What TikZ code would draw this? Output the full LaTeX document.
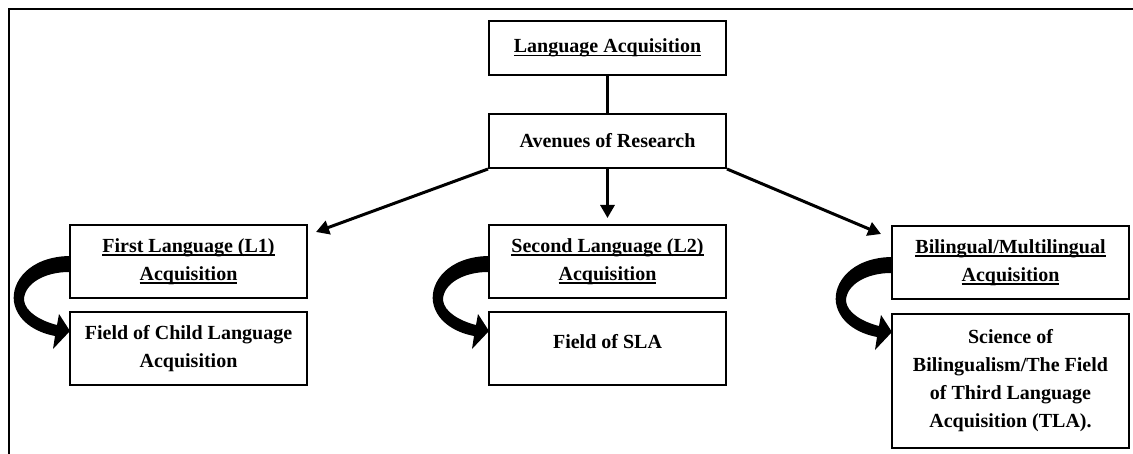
\documentclass[tikz,border=0pt]{standalone}
\usepackage{fontspec}
\setmainfont{Liberation Serif}
\usetikzlibrary{arrows.meta}
% underline set just below the baseline, through the descenders
\newcommand{\undl}[1]{\setbox0\hbox{#1}\rlap{\rule[-1.7pt]{\wd0}{0.75pt}}\box0}
\begin{document}
\begin{tikzpicture}[x=0.5pt,y=-0.5pt,
  box/.style={draw, line width=1pt, minimum width=118.5pt, inner sep=0pt, align=center,
    font=\bfseries\fontsize{10}{14}\selectfont},
  link/.style={line width=1.5pt},
  arr/.style={line width=1.5pt, -{Triangle[length=6.5pt,width=7pt]}},
  pics/bendarrow/.style={code={
    \fill (0,32) .. controls (-40,33) and (-58,58) .. (-55,78)
      .. controls (-52,96) and (-35,108) .. (-14,112)
      -- (-16,125) -- (1,107) -- (-10,90) -- (-12,101)
      .. controls (-28,97) and (-44,88) .. (-45,76)
      .. controls (-45,60) and (-25,48) .. (0,48) -- cycle;
  }}]
\useasboundingbox (0,0) rectangle (1133,454);
% frame (top and left edges)
\draw[line width=1pt] (9,454) -- (9,9) -- (1133,9);

% top level
\node[box, minimum height=27pt] (LA) at (607.5,48) {\undl{Language Acquisition}};
\node[box, minimum height=27pt] (AR) at (607.5,141) {Avenues of Research};

% three avenues
\node[box, minimum height=36.5pt] (L1) at (188.5,261.5) {\undl{First Language (L1)}\\\undl{Acquisition}};
\node[box, minimum height=36.5pt] (CL) at (188.5,348.5) {Field of Child Language\\Acquisition};
\node[box, minimum height=36.5pt] (L2) at (607.5,261.5) {\undl{Second Language (L2)}\\\undl{Acquisition}};
\node[box, minimum height=36.5pt, text depth=7pt] (SLA) at (607.5,348.5) {Field of SLA};
\node[box, minimum height=36.5pt] (BM) at (1010.5,262.5) {\undl{Bilingual/Multilingual}\\\undl{Acquisition}};
\node[box, minimum height=67pt] (SB) at (1010.5,381) {Science of\\Bilingualism/The Field\\of Third Language\\Acquisition (TLA).};

% connectors
\draw[link] (LA.south) -- (AR.north);
\coordinate (l1t) at ([shift={(8,8)}]L1.north east);
\coordinate (l2t) at ([shift={(0,-6)}]L2.north);
\coordinate (bmt) at ([shift={(-10,9)}]BM.north west);
\draw[arr] (AR.south west) -- (l1t);
\draw[arr] (AR.south) -- (l2t);
\draw[arr] (AR.south east) -- (bmt);

% curved arrows into the fields
\pic at (L1.north west) {bendarrow};
\pic at (L2.north west) {bendarrow};
\pic at (BM.north west) {bendarrow};
\end{tikzpicture}
\end{document}
